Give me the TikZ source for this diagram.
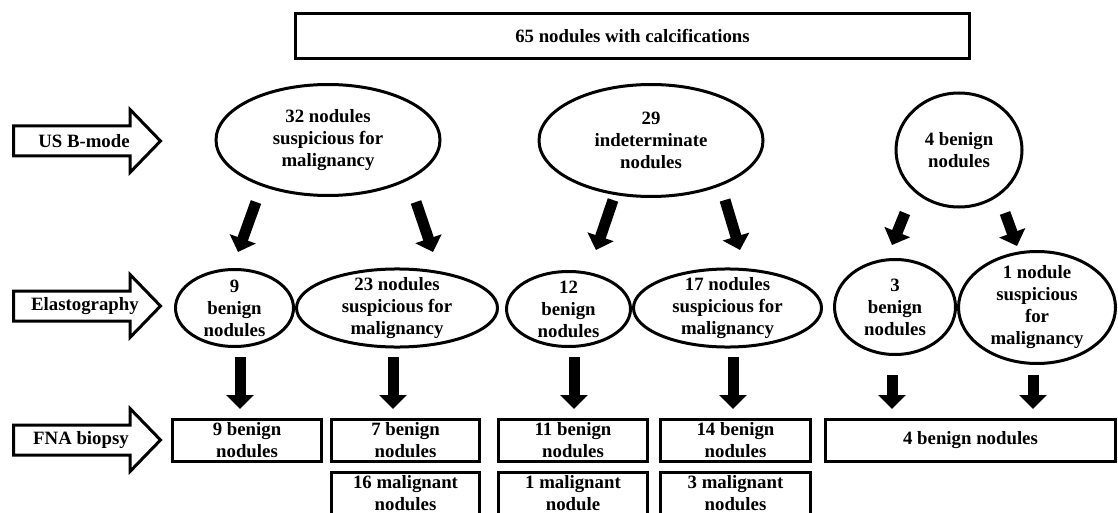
\documentclass[tikz,border=0pt]{standalone}
\usepackage{fontspec}
\setmainfont{Liberation Serif}
\usetikzlibrary{shapes.geometric,arrows.meta,calc}
\begin{document}
\begin{tikzpicture}[x=1pt,y=-1pt,
  txt/.style={font=\bfseries\fontsize{18.8}{22}\selectfont, align=center},
  oval/.style={txt, ellipse, draw, line width=3pt, inner sep=-3pt},
  tbox/.style={txt, rectangle, draw, line width=3pt, inner sep=0pt, minimum height=42pt},
  bigarrow/.style={line width=11pt, -{Triangle[width=27pt,length=14pt]}},
  sidearrow/.style={draw, line width=3pt, line join=miter, fill=white}]
\useasboundingbox (0,0) rectangle (1118,513);
\clip (0,0) rectangle (1118,513);

% top box
\node[tbox, minimum width=674pt, minimum height=45pt] (top) at (632.5,36) {65 nodules with calcifications};

% side arrows
\foreach \c/\t/\n/\lx in {141/US B-mode/us/84, 306/Elastography/el/85, 440/FNA biopsy/fna/81}{
  \draw[sidearrow] (13.5,\c-15) -- (130,\c-15) -- (130,\c-31.5) -- (160.5,\c) -- (130,\c+31.5) -- (130,\c+15) -- (13.5,\c+15) -- cycle;
  \node[txt] (\n) at (\lx,\c) {\t};
}

% level 1
\node[oval, minimum width=224pt, minimum height=111pt] (L1a) at (328,140) {32 nodules\\suspicious for\\malignancy};
\node[oval, minimum width=224pt, minimum height=112pt] (L1b) at (651,140.5) {29\\indeterminate\\nodules};
\node[oval, minimum width=126pt, minimum height=114pt] (L1c) at (959,150) {4 benign\\nodules};

% level 2
\node[oval, minimum width=118pt, minimum height=77pt] (E1) at (234.5,308) {9\\benign\\nodules};
\node[oval, minimum width=201pt, minimum height=77pt] (E2) at (397,308) {23 nodules\\suspicious for\\malignancy};
\node[oval, minimum width=124pt, minimum height=75pt] (E3) at (568.5,309) {12\\benign\\nodules};
\node[oval, minimum width=188pt, minimum height=77pt] (E4) at (727.5,308) {17 nodules\\suspicious for\\malignancy};
\node[oval, minimum width=121pt, minimum height=95pt] (E5) at (895,307) {3\\benign\\nodules};
\node[oval, minimum width=157pt, minimum height=112pt] (E6) at (1037,307.5) {1 nodule\\suspicious\\for\\malignancy};

% level 3
\node[tbox, minimum width=149pt] (B1) at (247,440.5) {9 benign\\nodules};
\node[tbox, minimum width=148pt] (B2) at (405.5,440.5) {7 benign\\nodules};
\node[tbox, minimum width=149pt] (B3) at (573,440.5) {11 benign\\nodules};
\node[tbox, minimum width=150pt] (B4) at (735.5,440.5) {14 benign\\nodules};
\node[tbox, minimum width=290pt] (B5) at (970.5,440.5) {4 benign nodules};
\node[tbox, minimum width=148pt] (B2b) at (405.5,493.5) {16 malignant\\nodules};
\node[tbox, minimum width=149pt] (B3b) at (573,493.5) {1 malignant\\nodule};
\node[tbox, minimum width=150pt] (B4b) at (735.5,493.5) {3 malignant\\nodules};

% arrows level 1 -> 2
\draw[bigarrow] ($(L1a.center)+(-72,62)$) -- ($(E1.center)+(3.5,-56)$);
\draw[bigarrow] ($(L1a.center)+(88,62)$) -- ($(E2.center)+(36,-56)$);
\draw[bigarrow] ($(L1b.center)+(-38,59.5)$) -- ($(E3.center)+(27.5,-59)$);
\draw[bigarrow] ($(L1b.center)+(74,59.5)$) -- ($(E4.center)+(12.5,-58)$);
\draw[bigarrow] ($(L1c.center)+(-54,63)$) -- ($(E5.center)+(-3,-62)$);
\draw[bigarrow] ($(L1c.center)+(46,63)$) -- ($(E6.center)+(-20,-61.5)$);

% arrows level 2 -> 3
\draw[bigarrow] ($(E1.center)+(5.5,49)$) -- ($(B1.center)+(-7,-31.5)$);
\draw[bigarrow] ($(E2.center)+(-4,49)$) -- ($(B2.center)+(-12.5,-31.5)$);
\draw[bigarrow] ($(E3.center)+(5.5,48)$) -- ($(B3.center)+(1,-31.5)$);
\draw[bigarrow] ($(E4.center)+(5.5,49)$) -- ($(B4.center)+(-2.5,-31.5)$);
\draw[bigarrow] ($(E5.center)+(-3,68)$) -- ($(B5.center)+(-78.5,-31.5)$);
\draw[bigarrow] ($(E6.center)+(-4,67.5)$) -- ($(B5.center)+(62.5,-31.5)$);
\end{tikzpicture}
\end{document}
